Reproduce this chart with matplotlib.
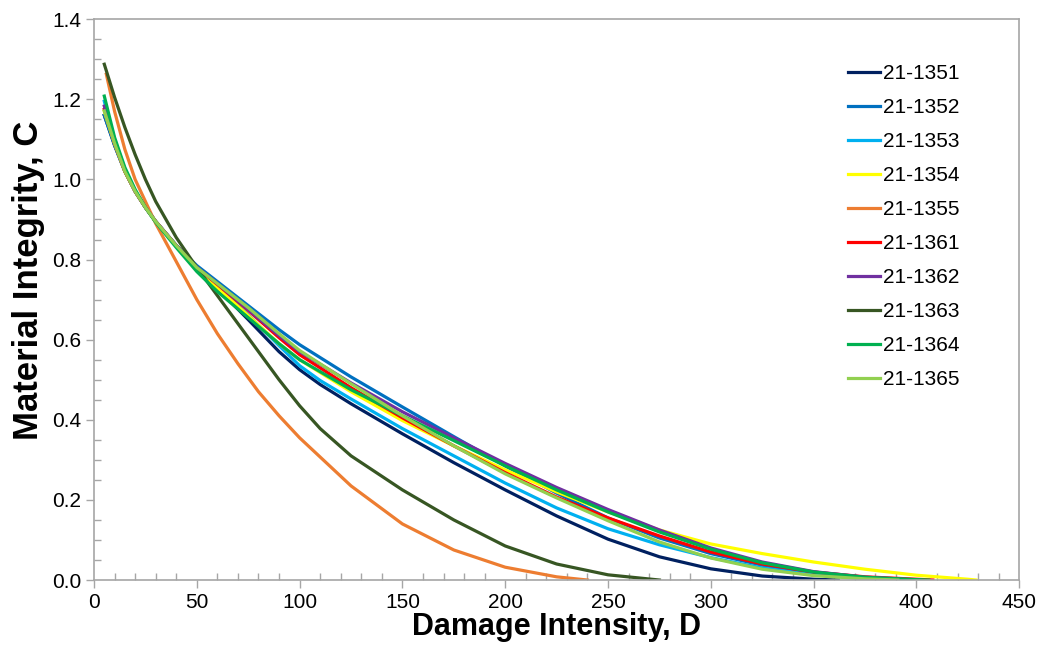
import matplotlib
matplotlib.use('agg')
import matplotlib.pyplot as plt
from matplotlib.ticker import MultipleLocator, FormatStrFormatter

plt.rcParams['font.family'] = ['Liberation Sans', 'DejaVu Sans']

# damage intensity D and material integrity C
d_1351 = [5, 10, 15, 20, 25, 30, 40, 50, 60, 75, 90, 100, 110, 125, 150, 175, 200, 225, 250, 275, 300, 325, 350, 362]
c_1351 = [1.16, 1.085, 1.02, 0.97, 0.93, 0.895, 0.835, 0.78, 0.728, 0.65, 0.57, 0.525, 0.488, 0.44, 0.365, 0.293, 0.225, 0.16, 0.102, 0.058, 0.028, 0.01, 0.002, 0.0]

d_1352 = [5, 10, 15, 20, 25, 30, 40, 50, 60, 75, 90, 100, 125, 150, 175, 200, 225, 250, 275, 300, 325, 350, 375, 400]
c_1352 = [1.16, 1.085, 1.02, 0.97, 0.93, 0.895, 0.835, 0.785, 0.745, 0.685, 0.625, 0.5875, 0.507, 0.432, 0.358, 0.285, 0.217, 0.155, 0.105, 0.066, 0.037, 0.017, 0.006, 0.0]

d_1353 = [5, 10, 15, 20, 25, 30, 40, 50, 60, 75, 90, 100, 110, 125, 150, 175, 200, 225, 250, 275, 300, 325, 350, 375, 399]
c_1353 = [1.195, 1.10, 1.025, 0.972, 0.93, 0.895, 0.835, 0.78, 0.732, 0.662, 0.585, 0.535, 0.498, 0.452, 0.378, 0.31, 0.242, 0.18, 0.128, 0.088, 0.056, 0.03, 0.013, 0.004, 0.0]

d_1354 = [5, 10, 15, 20, 25, 30, 40, 50, 60, 75, 90, 100, 125, 150, 175, 200, 225, 250, 275, 300, 325, 350, 375, 400, 425, 429]
c_1354 = [1.17, 1.09, 1.02, 0.97, 0.93, 0.895, 0.833, 0.775, 0.73, 0.66, 0.59, 0.55, 0.47, 0.398, 0.335, 0.275, 0.22, 0.17, 0.125, 0.09, 0.066, 0.045, 0.027, 0.012, 0.002, 0.0]

d_1355 = [6, 10, 15, 20, 30, 40, 50, 60, 70, 80, 90, 100, 125, 150, 175, 200, 225, 240]
c_1355 = [1.2625, 1.17, 1.075, 1.0, 0.89, 0.795, 0.70, 0.615, 0.54, 0.47, 0.41, 0.355, 0.235, 0.14, 0.075, 0.032, 0.008, 0.0]

d_1361 = [5, 10, 15, 20, 25, 30, 40, 50, 60, 75, 90, 100, 125, 150, 175, 200, 225, 250, 275, 300, 325, 350, 375, 400, 408]
c_1361 = [1.175, 1.09, 1.02, 0.97, 0.93, 0.895, 0.835, 0.78, 0.738, 0.673, 0.605, 0.5625, 0.48, 0.405, 0.335, 0.268, 0.207, 0.155, 0.11, 0.07, 0.04, 0.02, 0.008, 0.002, 0.0]

d_1362 = [5, 10, 15, 20, 25, 30, 40, 50, 60, 75, 90, 100, 125, 150, 175, 200, 225, 250, 275, 300, 325, 350, 375, 402]
c_1362 = [1.183, 1.095, 1.022, 0.97, 0.93, 0.895, 0.835, 0.78, 0.74, 0.675, 0.61, 0.57, 0.492, 0.42, 0.355, 0.291, 0.231, 0.176, 0.125, 0.08, 0.045, 0.021, 0.007, 0.0]

d_1363 = [5, 10, 15, 20, 25, 30, 40, 50, 60, 70, 80, 90, 100, 110, 125, 150, 175, 200, 225, 250, 275]
c_1363 = [1.2875, 1.205, 1.13, 1.062, 1.0, 0.945, 0.855, 0.78, 0.71, 0.64, 0.57, 0.50, 0.435, 0.378, 0.31, 0.225, 0.15, 0.085, 0.04, 0.013, 0.0]

d_1364 = [5, 10, 15, 20, 25, 30, 40, 50, 60, 75, 90, 100, 125, 150, 175, 200, 225, 250, 275, 300, 325, 350, 375, 400, 406]
c_1364 = [1.208, 1.105, 1.03, 0.975, 0.93, 0.893, 0.83, 0.77, 0.72, 0.655, 0.59, 0.55, 0.475, 0.41, 0.348, 0.285, 0.225, 0.17, 0.12, 0.077, 0.043, 0.02, 0.007, 0.001, 0.0]

d_1365 = [5, 10, 15, 20, 25, 30, 40, 50, 60, 75, 90, 100, 125, 150, 175, 200, 225, 250, 275, 300, 325, 350, 375, 391]
c_1365 = [1.171, 1.09, 1.02, 0.97, 0.93, 0.895, 0.835, 0.78, 0.74, 0.68, 0.615, 0.573, 0.49, 0.41, 0.335, 0.265, 0.205, 0.148, 0.095, 0.055, 0.027, 0.011, 0.003, 0.0]

labels = ['21-1351', '21-1352', '21-1353', '21-1354', '21-1355',
          '21-1361', '21-1362', '21-1363', '21-1364', '21-1365']
colors = ['#002060', '#0070C0', '#00B0F0', '#FFFF00', '#ED7D31',
          '#FF0000', '#7030A0', '#375623', '#00B050', '#92D050']
series = [(d_1351, c_1351), (d_1352, c_1352), (d_1353, c_1353), (d_1354, c_1354),
          (d_1355, c_1355), (d_1361, c_1361), (d_1362, c_1362), (d_1363, c_1363),
          (d_1364, c_1364), (d_1365, c_1365)]

fig = plt.figure(figsize=(10.4, 6.61), dpi=100)
ax = fig.add_axes([0.0904, 0.1225, 0.8896, 0.8485])

for (d, c), lab, col in zip(series, labels, colors):
    ax.plot(d, c, color=col, lw=2.3, label=lab, solid_joinstyle='round')

ax.set_xlim(0, 450)
ax.set_ylim(0, 1.4)
ax.xaxis.set_major_locator(MultipleLocator(50))
ax.xaxis.set_minor_locator(MultipleLocator(10))
ax.yaxis.set_major_locator(MultipleLocator(0.2))
ax.yaxis.set_minor_locator(MultipleLocator(0.05))
ax.yaxis.set_major_formatter(FormatStrFormatter('%.1f'))

ax.tick_params(which='major', direction='out', length=6, width=1, color='#a6a6a6',
               labelsize=15, pad=3)
ax.tick_params(which='minor', direction='in', length=5, width=1, color='#a6a6a6')
for s in ax.spines.values():
    s.set_color('#a6a6a6')
    s.set_linewidth(1.2)

ax.set_xlabel('Damage Intensity, D', fontsize=22, fontweight='bold', labelpad=0)
ax.set_ylabel('Material Integrity, C', fontsize=25, fontweight='bold')
ax.yaxis.set_label_coords(-0.053, 0.535)

leg = ax.legend(loc='upper left', bbox_to_anchor=(0.815, 0.92), frameon=False,
                fontsize=15, handlelength=1.55, handletextpad=0.15,
                labelspacing=0.72, borderpad=0, borderaxespad=0)

fig.savefig('out.png', dpi=100)
